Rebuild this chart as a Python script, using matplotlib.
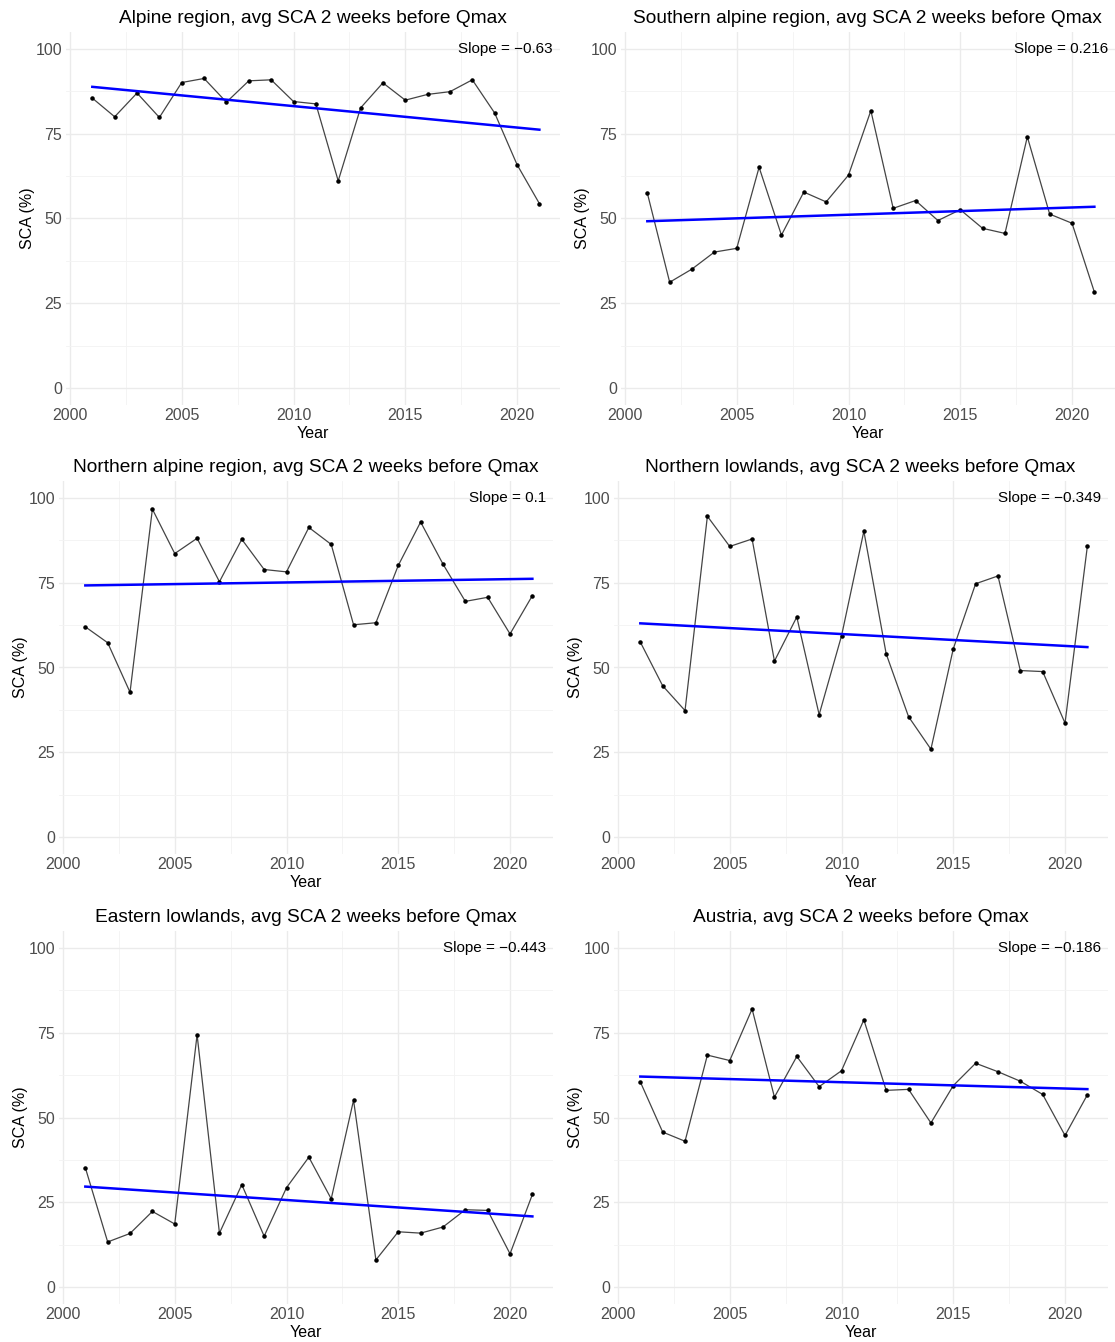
import numpy as np
import matplotlib
matplotlib.use("Agg")
import matplotlib.pyplot as plt

plt.rcParams['font.family'] = ['Liberation Sans', 'DejaVu Sans']

years = list(range(2001, 2022))

alpine = [85.5, 80.0, 87.0, 79.8, 90.1, 91.3, 84.3, 90.6, 90.9, 84.5, 83.8,
          61.1, 82.6, 90.0, 84.9, 86.6, 87.4, 90.9, 81.1, 65.9, 54.4]
southern = [57.5, 31.2, 35.1, 40.1, 41.2, 65.1, 45.1, 57.8, 54.9, 62.8, 81.8,
            53.0, 55.3, 49.4, 52.6, 47.1, 45.6, 74.1, 51.3, 48.6, 28.3]
northern_alpine = [62.0, 57.3, 42.7, 96.7, 83.6, 88.1, 75.3, 87.8, 78.9, 78.2, 91.3,
                   86.3, 62.6, 63.2, 80.1, 92.9, 80.5, 69.5, 70.7, 59.9, 71.2]
northern_low = [57.5, 44.6, 37.3, 94.6, 85.7, 87.9, 51.9, 64.9, 36.1, 59.3, 90.2,
                54.0, 35.5, 25.9, 55.5, 74.7, 77.0, 49.1, 48.8, 33.6, 85.8]
eastern_low = [35.2, 13.3, 15.8, 22.3, 18.6, 74.4, 15.9, 30.2, 15.0, 29.3, 38.3,
               26.0, 55.1, 8.0, 16.3, 15.9, 17.7, 22.8, 22.6, 9.8, 27.3]
austria = [60.5, 45.7, 43.0, 68.4, 66.8, 82.0, 56.0, 68.0, 59.1, 63.8, 78.8,
           58.0, 58.3, 48.4, 59.4, 66.0, 63.5, 60.7, 56.8, 44.7, 56.7]

titles = ["Alpine region, avg SCA 2 weeks before Qmax",
          "Southern alpine region, avg SCA 2 weeks before Qmax",
          "Northern alpine region, avg SCA 2 weeks before Qmax",
          "Northern lowlands, avg SCA 2 weeks before Qmax",
          "Eastern lowlands, avg SCA 2 weeks before Qmax",
          "Austria, avg SCA 2 weeks before Qmax"]
slopes = ["\u22120.63", "0.216", "0.1", "\u22120.349", "\u22120.443", "\u22120.186"]
series = [alpine, southern, northern_alpine, northern_low, eastern_low, austria]

W, H = 1115, 1342
# panel left / top in pixels
boxes = [(65.5, 32), (620.5, 32), (58.5, 481), (613.5, 481), (58.5, 931), (613.5, 931)]
pw, ph = 494, 373

fig = plt.figure(figsize=(W / 100, H / 100), dpi=100)

for (left, top), vals, title, slope in zip(boxes, series, titles, slopes):
    ax = fig.add_axes([left / W, (H - top - ph) / H, pw / W, ph / H])
    x = np.array(years)
    y = np.array(vals)

    ax.set_xlim(1999.8, 2021.9)
    ax.set_ylim(-5, 105)
    ax.set_xticks([2000, 2005, 2010, 2015, 2020])
    ax.set_yticks([0, 25, 50, 75, 100])
    ax.set_xticks([2002.5, 2007.5, 2012.5, 2017.5], minor=True)
    ax.set_yticks([12.5, 37.5, 62.5, 87.5], minor=True)
    ax.grid(which='major', color='#EBEBEB', linewidth=1.0)
    ax.grid(which='minor', color='#F3F3F3', linewidth=0.6)
    ax.set_axisbelow(True)
    for s in ax.spines.values():
        s.set_visible(False)
    ax.tick_params(which='both', length=0, labelsize=11.5, labelcolor='#4D4D4D', pad=2.5)

    ax.plot(x, y, color='#444444', linewidth=0.9, zorder=2)
    ax.scatter(x, y, s=5, color='black', zorder=3)

    k, b = np.polyfit(x, y, 1)
    ax.plot(x, k * x + b, color='blue', linewidth=1.8, zorder=4)

    ax.text(2021.6, 100, "Slope = " + slope, ha='right', va='center', fontsize=11)
    ax.set_title(title, fontsize=13.8, pad=6.5)
    ax.set_xlabel("Year", fontsize=11.5, labelpad=1.5)
    ax.set_ylabel("SCA (%)", fontsize=11.5, labelpad=0)

fig.savefig("out.png", dpi=100)
